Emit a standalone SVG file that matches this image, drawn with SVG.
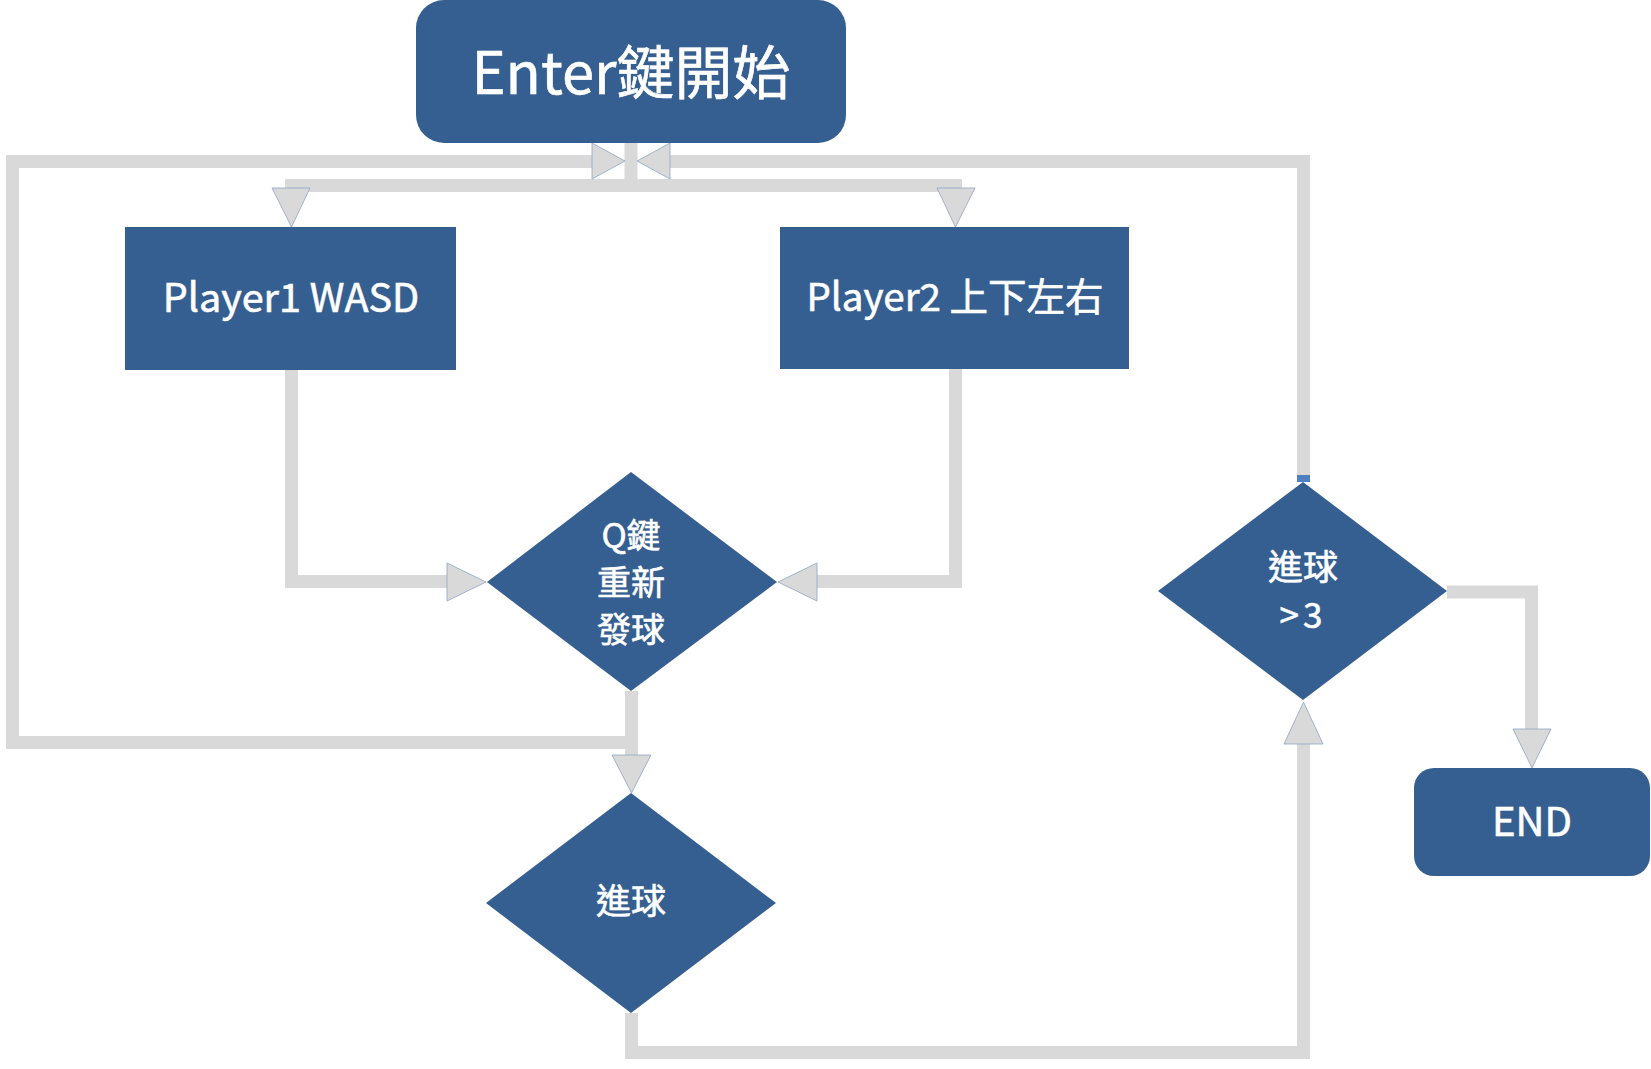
<svg xmlns="http://www.w3.org/2000/svg" width="1651" height="1069" viewBox="0 0 1651 1069">
<style>
.node{fill:#365F91}
.lbl{fill:#FFFFFF;stroke:#FFFFFF;stroke-width:0.6;font-family:"Noto Sans CJK TC","Noto Sans",sans-serif;text-anchor:middle}
.ln{fill:none;stroke:#D9D9D9;stroke-width:13;stroke-linejoin:miter;stroke-linecap:butt}
.ah{fill:#D9D9D9;stroke:#8FA3C4;stroke-width:0.8;stroke-linejoin:miter}
</style>
<rect width="1651" height="1069" fill="#FFFFFF"/>
<g id="connectors">
  <path class="ln" d="M631,143 V192"/>
  <path class="ln" d="M285,185.5 H962"/>
  <polygon class="ah" points="272,188 310,188 291.5,227"/>
  <polygon class="ah" points="937,188 975,188 955.5,227"/>
  <path class="ln" d="M631.5,691 V742.5 H12.5 V161.5 H592"/>
  <polygon class="ah" points="592,143 592,179 625,161"/>
  <path class="ln" d="M631.5,742 V755"/>
  <polygon class="ah" points="612,755 651,755 631.5,793"/>
  <path class="ln" d="M1303.5,482 V161.5 H670"/>
  <polygon class="ah" points="670,143 670,179 637,161"/>
  <rect x="1297" y="475" width="13" height="7" fill="#4F7FC0"/>
  <path class="ln" d="M631.5,1013 V1052.5 H1303.5 V744"/>
  <polygon class="ah" points="1284,744 1323,744 1303.5,702"/>
  <path class="ln" d="M1447,592 H1531.5 V729"/>
  <polygon class="ah" points="1513,729 1551,729 1532,768"/>
  <path class="ln" d="M291.5,370 V581.5 H447"/>
  <polygon class="ah" points="447,563 447,601 486,582"/>
  <path class="ln" d="M955.5,369 V581.5 H817"/>
  <polygon class="ah" points="817,563 817,601 778,582"/>
</g>
<g id="n-enter">
  <rect class="node" x="416" y="0" width="430" height="143" rx="28" ry="28"/>
  <text class="lbl" x="631" y="94" font-size="58">Enter鍵開始</text>
</g>
<g id="n-player1">
  <rect class="node" x="125" y="227" width="331" height="143"/>
  <text class="lbl" x="291" y="312" font-size="39.5">Player1 WASD</text>
</g>
<g id="n-player2">
  <rect class="node" x="780" y="227" width="349" height="142"/>
  <text class="lbl" x="955" y="311" font-size="38.5">Player2 上下左右</text>
</g>
<g id="n-q">
  <polygon class="node" points="631,472 777,582 631,691 487,582"/>
  <text class="lbl" x="631" y="548" font-size="34">Q鍵</text>
  <text class="lbl" x="631" y="595" font-size="34">重新</text>
  <text class="lbl" x="631" y="642" font-size="34">發球</text>
</g>
<g id="n-goal">
  <polygon class="node" points="631,793 776,903 631,1013 486,903"/>
  <text class="lbl" x="631" y="914" font-size="35">進球</text>
</g>
<g id="n-goal3">
  <polygon class="node" points="1303,482 1447,591 1303,700 1158,591"/>
  <text class="lbl" x="1303" y="580" font-size="35">進球</text>
  <text class="lbl" x="1303" y="628" font-size="35" letter-spacing="4">&gt;3</text>
</g>
<g id="n-end">
  <rect class="node" x="1414" y="768" width="236" height="108" rx="20" ry="20"/>
  <text class="lbl" x="1532" y="836" font-size="40">END</text>
</g>
</svg>
